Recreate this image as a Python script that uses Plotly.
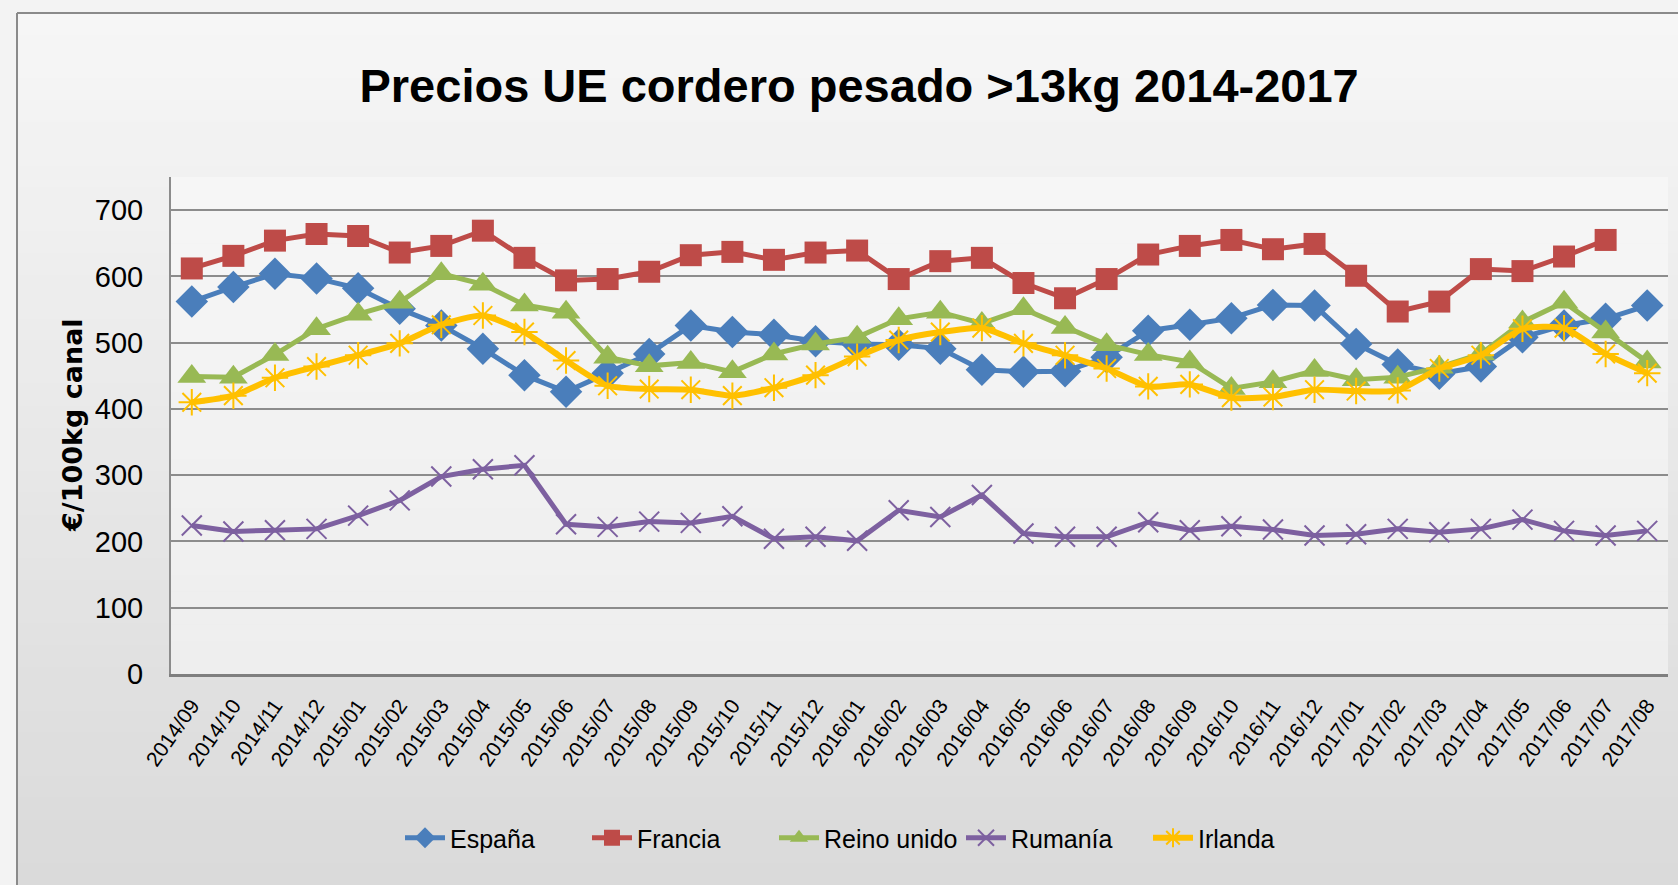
import plotly.graph_objects as go

categories = ["2014/09", "2014/10", "2014/11", "2014/12",
              "2015/01", "2015/02", "2015/03", "2015/04", "2015/05", "2015/06",
              "2015/07", "2015/08", "2015/09", "2015/10", "2015/11", "2015/12",
              "2016/01", "2016/02", "2016/03", "2016/04", "2016/05", "2016/06",
              "2016/07", "2016/08", "2016/09", "2016/10", "2016/11", "2016/12",
              "2017/01", "2017/02", "2017/03", "2017/04", "2017/05", "2017/06",
              "2017/07", "2017/08"]

espana = [562, 584, 604, 597, 582, 551, 526, 491, 451, 426, 454, 483,
          526, 516, 512, 502, 498, 497, 491, 459, 456, 457, 478, 518,
          527, 537, 557, 556, 498, 467, 453, 464, 508, 526, 536, 556]
francia = [612, 631, 654, 664, 661, 636, 646, 669, 628, 594, 596, 607,
           632, 637, 625, 636, 639, 596, 623, 628, 590, 567, 596, 633,
           646, 655, 641, 649, 601, 547, 562, 611, 608, 630, 655, None]
reino_unido = [449, 448, 482, 521, 543, 561, 604, 588, 557, 546, 478, 465,
               470, 456, 483, 498, 508, 536, 546, 529, 551, 523, 497, 482,
               471, 431, 441, 458, 444, 448, 463, 483, 531, 561, 516, 471]
rumania = [224, 215, 217, 219, 239, 262, 298, 309, 315, 226, 222, 230,
           228, 238, 204, 207, 201, 247, 237, 270, 212, 207, 207, 229,
           217, 223, 218, 209, 211, 219, 214, 219, 233, 216, 209, 216]
irlanda = [410, 420, 447, 464, 481, 499, 527, 541, 516, 473, 435, 430,
           429, 420, 432, 451, 479, 504, 516, 522, 499, 481, 461, 434,
           437, 417, 418, 429, 427, 428, 461, 481, 521, 522, 483, 454]

y_ticks = [0, 100, 200, 300, 400, 500, 600, 700]

title_text = "Precios UE cordero pesado >13kg 2014-2017"
y_title = "€/100kg canal"

W, H = 1678, 885
L, R, T, B = 171, 1668, 177, 674  # plot area in pixels
FONT = "Liberation Sans, Arial, sans-serif"

def px_x(p):
    return (p - L) / (R - L)

def px_y(p):
    return (B - p) / (B - T)

def lerp_col(c1, c2, t):
    return "rgb(%d,%d,%d)" % tuple(round(a + (b - a) * t) for a, b in zip(c1, c2))

shapes = []
# outer chart area gradient (inside border)
n = 40
top_c, bot_c = (246, 246, 246), (218, 218, 218)
y0p = 13
for i in range(n):
    ya = y0p + (H - y0p) * i / n
    yb = y0p + (H - y0p) * (i + 1) / n + 1
    shapes.append(dict(type="rect", xref="paper", yref="paper", layer="below",
                       x0=px_x(17), x1=px_x(W + 2), y0=px_y(yb), y1=px_y(ya),
                       fillcolor=lerp_col(top_c, bot_c, i / (n - 1)), line=dict(width=0)))
# plot area gradient
m = 30
ptop, pbot = (246, 246, 246), (238, 238, 238)
for i in range(m):
    ya = T + (B - T) * i / m
    yb = T + (B - T) * (i + 1) / m + 0.5
    shapes.append(dict(type="rect", xref="paper", yref="paper", layer="below",
                       x0=0, x1=1, y0=px_y(min(yb, B)), y1=px_y(ya),
                       fillcolor=lerp_col(ptop, pbot, i / (m - 1)), line=dict(width=0)))
# chart border (top and left)
shapes.append(dict(type="line", xref="paper", yref="paper", layer="above",
                   x0=px_x(17), x1=px_x(W + 2), y0=px_y(13), y1=px_y(13),
                   line=dict(color="#8a8a8a", width=2)))
shapes.append(dict(type="line", xref="paper", yref="paper", layer="above",
                   x0=px_x(17), x1=px_x(17), y0=px_y(13), y1=px_y(H + 2),
                   line=dict(color="#8a8a8a", width=2)))

fig = go.Figure()
fig.add_trace(go.Scatter(x=categories, y=espana, name="España", mode="lines+markers",
                         line=dict(color="#4A7EBB", width=5),
                         marker=dict(symbol="diamond", size=25, color="#4A7EBB")))
fig.add_trace(go.Scatter(x=categories, y=francia, name="Francia", mode="lines+markers",
                         line=dict(color="#BE4B48", width=5),
                         marker=dict(symbol="square", size=22, color="#BE4B48")))
fig.add_trace(go.Scatter(x=categories, y=reino_unido, name="Reino unido", mode="lines+markers",
                         line=dict(color="#98B954", width=5),
                         marker=dict(symbol="triangle-up", size=25, color="#98B954")))
fig.add_trace(go.Scatter(x=categories, y=rumania, name="Rumanía", mode="lines+markers",
                         line=dict(color="#7D60A0", width=5),
                         marker=dict(symbol="x-thin-open", size=20,
                                     line=dict(color="#7D60A0", width=2))))
fig.add_trace(go.Scatter(x=categories, y=irlanda, name="Irlanda", mode="lines+markers",
                         line=dict(color="#FFC000", width=6, shape="spline", smoothing=0.6),
                         marker=dict(symbol="asterisk-open", size=22,
                                     line=dict(color="#FFC000", width=2))))

fig.update_layout(
    width=W, height=H,
    margin=dict(l=L, r=W - R, t=T, b=H - B, autoexpand=False),
    paper_bgcolor="#f3f3f3",
    plot_bgcolor="rgba(0,0,0,0)",
    shapes=shapes,
    title=dict(text="<b>" + title_text + "</b>", x=0.512, xref="container", xanchor="center",
               y=1 - 86 / H, yref="container", yanchor="middle",
               font=dict(family=FONT, size=47, color="#000000")),
    xaxis=dict(type="category", range=[-0.5, len(categories) - 0.5], automargin=False,
               tickangle=-55, showgrid=False,
               showline=True, linecolor="#7f7f7f", linewidth=3,
               tickfont=dict(family=FONT, size=21, color="#000000"),
               ticks="", ticklabelstandoff=8),
    yaxis=dict(range=[0, 750], tickvals=y_ticks, showgrid=True, gridcolor="#8c8c8c",
               automargin=False,
               gridwidth=2, showline=True, linecolor="#8c8c8c", linewidth=2,
               zeroline=False, ticks="",
               tickfont=dict(family=FONT, size=29, color="#000000"),
               ticklabelstandoff=20),
    legend=dict(orientation="h", xref="container", yref="container",
                x=400 / W, xanchor="left", y=1 - 838 / H, yanchor="middle",
                font=dict(family=FONT, size=25, color="#000000"),
                bgcolor="rgba(0,0,0,0)", itemwidth=40,
                entrywidth=132, entrywidthmode="pixels"),
    annotations=[dict(text="<b>" + y_title + "</b>", xref="paper", yref="paper",
                      x=px_x(72), y=px_y(425), xanchor="center", yanchor="middle",
                      textangle=-90, showarrow=False,
                      font=dict(family="DejaVu Sans", size=27, color="#000000"))],
)

fig.write_html("out.html",
               config={"displayModeBar": False},
               post_script="document.body.style.margin='0px';"
                           "document.body.style.background='#f3f3f3';")
